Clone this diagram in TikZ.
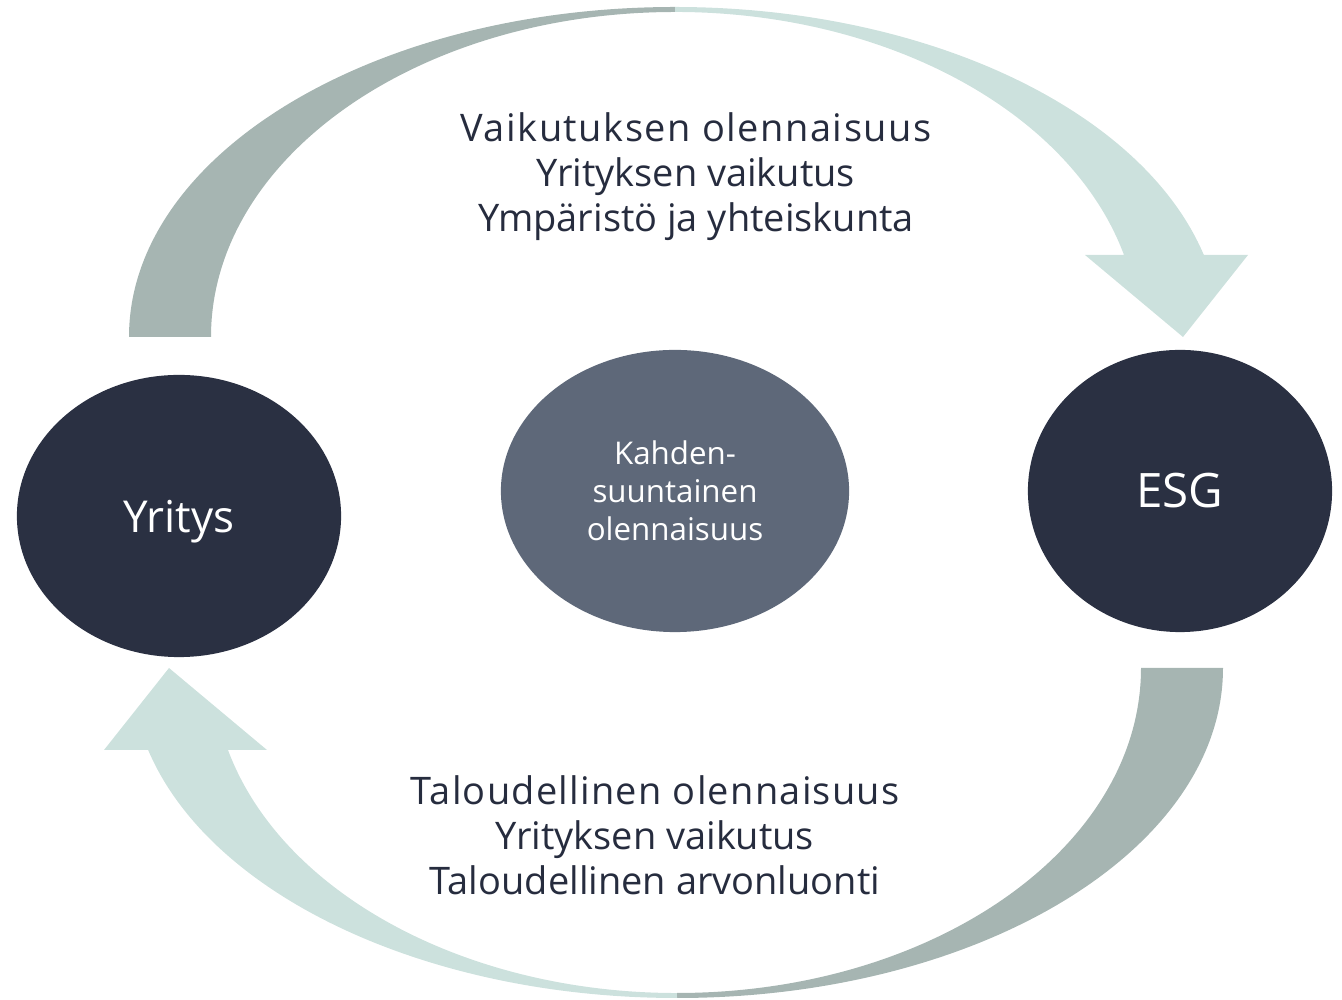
\documentclass[tikz,border=0pt]{standalone}
\usepackage{fontspec}
\setmainfont{Open Sans}
\usetikzlibrary{shapes.geometric}

\definecolor{navy}{HTML}{2A3042}
\definecolor{slate}{HTML}{5E6879}
\definecolor{bandgrey}{HTML}{A6B5B2}
\definecolor{bandmint}{HTML}{CCE1DD}
\definecolor{ink}{HTML}{262C3E}

\tikzset{
    bigblob/.style={ellipse,fill=navy,text=white,inner sep=0pt,font=\fontsize{13}{15}\selectfont},
    midblob/.style={ellipse,fill=slate,text=white,inner sep=0pt,align=center,font=\fontsize{8.9}{10.8}\selectfont},
    caption/.style={text=ink,align=center,font=\fontsize{10.8}{12.8}\selectfont},
    bandarrow/.pic={
        % underside of the ribbon
        \fill[bandgrey] (-546,0) arc[start angle=180,end angle=90,x radius=546,y radius=330]
            -- (0,325) arc[start angle=90,end angle=180,x radius=464,y radius=325] -- cycle;
        % front of the ribbon with the head
        \fill[bandmint] (0,330) arc[start angle=90,end angle=14.39,x radius=546,y radius=330]
            -- (573,82) -- (508,0) -- (410,82)
            -- (449,82) arc[start angle=14.61,end angle=90,x radius=464,y radius=325] -- cycle;
    }
}

\begin{document}
\begin{tikzpicture}[x=0.01cm,y=0.01cm]
    \useasboundingbox (0,0) rectangle (1342,1000);

    \pic at (675,663) {bandarrow};
    \pic[rotate=180] at (677,332) {bandarrow};

    \node[bigblob,minimum width=3.24cm,minimum height=2.82cm,text depth=0pt,font=\fontsize{12.5}{15}\selectfont] (yritys) at (179,484) {Yritys};
    \node[bigblob,minimum width=3.04cm,minimum height=2.82cm,font=\fontsize{13.5}{15}\selectfont] (esg) at (1180,509) {ESG};
    \node[midblob,minimum width=3.48cm,minimum height=2.82cm] (kaksi) at (675,509) {Kahden-\\suuntainen\\olennaisuus};

    \node[caption] (ylateksti) at (696,823) {{\addfontfeature{LetterSpace=4}Vaikutuksen olennaisuus}\\Yrityksen vaikutus\\Ympäristö ja yhteiskunta};
    \node[caption] (alateksti) at (655,165) {{\addfontfeature{LetterSpace=3.3}Taloudellinen olennaisuus}\\Yrityksen vaikutus\\Taloudellinen arvonluonti};
\end{tikzpicture}
\end{document}
